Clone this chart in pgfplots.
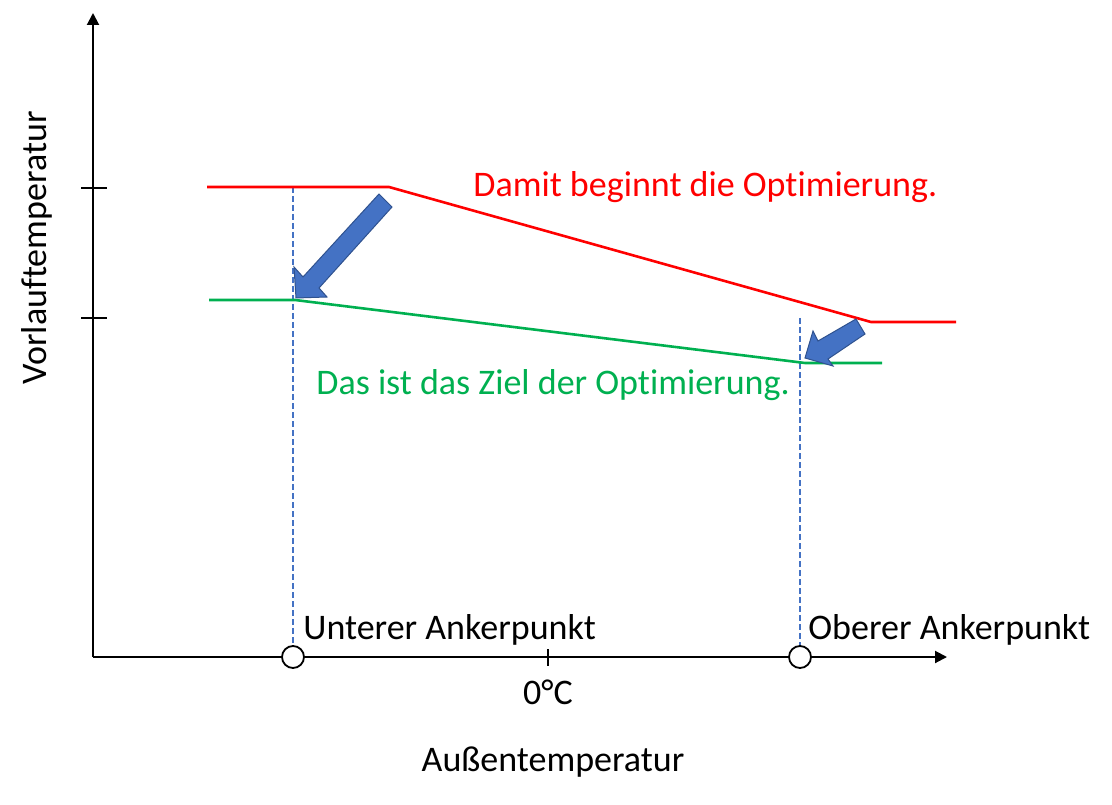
\documentclass[border=0pt]{standalone}
\usepackage{pgfplots}
\pgfplotsset{compat=1.18}
\usepackage{fontspec}
\setmainfont{Carlito}[Ligatures=NoCommon]
\usetikzlibrary{arrows.meta}
\definecolor{arrblue}{HTML}{4472C4}
\definecolor{arrborder}{HTML}{2F528F}
\definecolor{zgreen}{HTML}{00B050}
\begin{document}
\begin{tikzpicture}
\begin{axis}[
  scale only axis, width=556pt, height=402pt,
  xmin=0, xmax=1112, ymin=-804, ymax=0,
  hide axis, clip=false,
]
\path (rel axis cs:0,0) rectangle (rel axis cs:1,1);
% axes
\addplot[line width=1pt, -{Triangle[length=6pt,width=6pt]}] coordinates {(93,-657) (947,-657)};
\addplot[line width=1pt, -{Triangle[length=6pt,width=6pt]}] coordinates {(93,-657) (93,-13)};
% ticks
\addplot[line width=0.6pt] coordinates {(81,-188) (107,-188)};
\addplot[line width=0.6pt] coordinates {(81,-318) (107,-318)};
\addplot[line width=0.6pt] coordinates {(548,-649) (548,-666)};
% dashed guides
\addplot[arrblue, line width=0.6pt, dash pattern=on 3pt off 1.5pt] coordinates {(293,-187) (293,-657)};
\addplot[arrblue, line width=0.6pt, dash pattern=on 3pt off 1.5pt] coordinates {(800,-318) (800,-657)};
% red line
\addplot[red, line width=1.3pt] coordinates {(207,-187) (389,-187) (871,-322) (956,-322)};
% green line
\addplot[zgreen, line width=1.3pt] coordinates {(209,-300) (295,-300) (805,-363) (882,-363)};
% block arrows
\addplot[fill=arrblue, draw=arrborder, line width=0.5pt] coordinates {(379,-194) (392,-207) (319,-288) (327,-297) (296,-298) (294,-267) (303,-277) (379,-194)} -- cycle;
\addplot[fill=arrblue, draw=arrborder, line width=0.5pt] coordinates {(856,-319) (865,-334) (828,-359) (833,-366) (805,-358) (813,-331) (818,-341) (856,-319)} -- cycle;
% anchor circles
\addplot[only marks, mark=*, mark size=5.5pt, mark options={fill=white, draw=black, line width=0.9pt}] coordinates {(293,-657) (800,-657)};
% texts
\node[anchor=west, inner sep=0pt, text=red, font=\fontsize{18}{21}\selectfont] at (axis cs:473,-187) {Damit beginnt die Optimierung.};
\node[anchor=west, inner sep=0pt, text=zgreen, font=\fontsize{18}{21}\selectfont] at (axis cs:316,-385) {Das ist das Ziel der Optimierung.};
\node[anchor=west, inner sep=0pt, font=\fontsize{18}{21}\selectfont] at (axis cs:303,-630) {Unterer Ankerpunkt};
\node[anchor=west, inner sep=0pt, font=\fontsize{18}{21}\selectfont] at (axis cs:808,-630) {Oberer Ankerpunkt};
\node[font=\fontsize{18}{21}\selectfont] at (axis cs:548,-692) {0°C};
\node[font=\fontsize{18}{21}\selectfont] at (axis cs:553,-762) {Außentemperatur};
\node[rotate=90, font=\fontsize{18}{21}\selectfont] at (axis cs:37,-248) {Vorlauftemperatur};
\end{axis}
\end{tikzpicture}
\end{document}
